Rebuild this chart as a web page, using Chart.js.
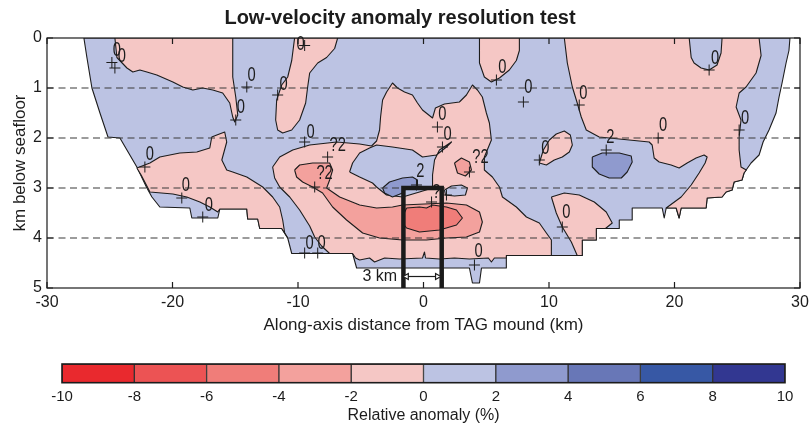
<!DOCTYPE html>
<html><head><meta charset="utf-8">
<script src="https://cdn.jsdelivr.net/npm/chart.js@4/dist/chart.umd.min.js"></script>
<style>
html,body{margin:0;padding:0;background:#fff;}
#wrap{position:relative;width:812px;height:425px;}
#c1{position:absolute;left:0;top:0;}
#c2{position:absolute;left:0;top:345px;}
</style></head><body>
<div id="wrap"><canvas id="c1" width="812" height="345"></canvas><canvas id="c2" width="812" height="80"></canvas></div>
<script>
// ================= DATA =================
const xTicks = [-30,-20,-10,0,10,20,30];
const depthTicks = [0,1,2,3,4,5];
const gridDepths = [1,2,3,4];
const bandEdges = [-10,-8,-6,-4,-2,0,2,4,6,8,10];

// Contour regions: [along-axis km, depth km]
const domainOutline = [[-27.06,0],[-26.82,0.39],[-26.42,1.0],[-25.78,1.5],[-25.14,1.98],[-24.19,2.0],[-22.84,2.58],[-22.04,3.0],[-21.64,3.18],[-21.01,3.38],[-18.62,3.4],[-18.46,3.6],[-16.39,3.6],[-16.23,3.42],[-14.08,3.42],[-14.01,3.62],[-13.21,3.62],[-13.05,3.81],[-11.3,3.81],[-10.82,4.0],[-10.5,4.31],[-5.65,4.31],[-5.33,4.6],[3.66,4.6],[3.9,4.9],[4.46,4.9],[4.62,4.6],[6.6,4.6],[6.6,4.35],[12.65,4.35],[12.65,4.04],[13.77,4.04],[13.77,3.81],[15.6,3.81],[15.6,3.64],[16.63,3.64],[16.63,3.4],[19.02,3.4],[19.18,3.6],[19.34,3.4],[20.13,3.4],[20.37,3.6],[20.53,3.4],[22.52,3.4],[22.6,3.2],[23.79,3.18],[24.11,3.08],[24.59,3.04],[24.75,2.88],[25.38,2.84],[25.54,2.7],[26.1,2.5],[26.74,2.34],[27.06,2.08],[27.53,1.84],[28.09,1.5],[28.33,1.18],[28.57,0.9],[28.89,0.5],[29.12,0.25],[29.2,0]];
const lowTopLeft = [[-24.59,0],[-24.43,0.39],[-23.63,0.6],[-23.16,0.68],[-22.6,0.64],[-22.04,0.68],[-21.25,0.74],[-19.97,0.88],[-19.18,0.98],[-18.38,1.04],[-17.59,1.0],[-16.79,1.04],[-16.0,1.1],[-15.44,1.3],[-15.2,1.58],[-15.04,1.68],[-14.8,1.54],[-14.96,1.18],[-15.2,0.78],[-15.2,0]];
const lowTongue = [[-10.27,0],[-10.5,0.45],[-10.82,0.78],[-11.3,0.94],[-11.7,1.24],[-11.78,1.64],[-11.62,1.84],[-11.22,1.9],[-10.5,1.84],[-9.87,1.64],[-9.39,1.3],[-9.23,0.98],[-9.07,0.7],[-8.43,0.5],[-7.72,0.39],[-7.08,0.21],[-6.84,0]];
const lowTopMid = [[4.46,0],[4.46,0.5],[4.85,0.78],[5.41,0.88],[6.05,0.8],[6.84,0.64],[7.4,0.45],[7.64,0.25],[7.64,0]];
const lowRight = [[11.22,0],[11.46,0.5],[11.86,0.98],[12.25,1.3],[12.57,1.58],[12.97,1.84],[14.0,1.98],[14.8,2.0],[17.98,2.08],[18.22,2.14],[18.38,2.4],[18.78,2.48],[19.73,2.54],[20.37,2.6],[21.01,2.5],[21.72,2.4],[22.36,2.34],[22.6,2.38],[22.44,2.5],[21.96,2.7],[21.33,2.94],[20.53,3.18],[19.34,3.4],[20.13,3.4],[20.37,3.6],[20.53,3.4],[22.52,3.4],[22.6,3.2],[23.79,3.18],[24.11,3.08],[24.59,3.04],[24.75,2.88],[25.38,2.84],[25.54,2.7],[25.72,2.64],[25.3,2.58],[25.15,2.24],[25.15,1.98],[25.3,1.64],[24.91,1.38],[25.15,1.1],[25.7,0.98],[26.5,0.7],[26.9,0.35],[26.74,0]];
const highTopRight = [[21.17,0],[21.33,0.39],[21.56,0.5],[22.12,0.6],[22.76,0.64],[23.39,0.54],[23.71,0.3],[23.79,0]];
const lowLowerLeft = [[-22.84,2.6],[-21.8,2.5],[-21.01,2.38],[-19.42,2.3],[-18.06,2.28],[-17.03,2.2],[-16.87,1.98],[-16.47,1.94],[-15.84,1.88],[-15.68,2.08],[-16.07,2.44],[-15.68,2.64],[-15.2,2.68],[-14.08,2.78],[-12.81,2.98],[-12.02,3.18],[-11.46,3.38],[-11.22,3.64],[-11.06,3.9],[-10.82,4.0],[-11.3,3.81],[-13.05,3.81],[-13.21,3.62],[-14.01,3.62],[-14.08,3.42],[-16.23,3.42],[-16.39,3.48],[-17.03,3.38],[-17.82,3.28],[-18.86,3.18],[-19.97,3.12],[-21.8,3.08],[-22.0,2.98],[-22.5,2.74]];
const lowCentre = [[-12.02,2.58],[-11.46,2.38],[-10.42,2.24],[-9.07,2.14],[-6.92,2.08],[-5.09,2.12],[-4.14,2.16],[-3.74,2.06],[-3.5,1.84],[-3.42,1.58],[-3.26,1.24],[-2.94,1.08],[-2.47,0.9],[-2.07,1.0],[-1.51,1.08],[-0.88,1.14],[-0.48,1.3],[-0.08,1.44],[0.72,1.6],[0.95,1.4],[1.67,1.32],[2.86,1.28],[3.42,1.14],[3.9,0.94],[4.3,1.04],[4.69,1.18],[5.01,1.5],[5.25,1.7],[5.41,2.04],[4.85,2.38],[4.85,2.64],[5.49,2.78],[6.05,2.98],[6.29,3.18],[7.4,3.38],[8.2,3.58],[9.23,3.7],[9.79,3.9],[10.19,4.04],[10.19,4.35],[6.6,4.35],[6.6,4.4],[5.65,4.4],[5.41,4.48],[5.17,4.4],[3.66,4.42],[2.47,4.4],[1.27,4.42],[0.16,4.4],[0.08,4.28],[-0.08,4.4],[-1.91,4.42],[-3.1,4.4],[-3.9,4.48],[-4.3,4.4],[-5.09,4.44],[-5.41,4.4],[-5.65,4.31],[-7.48,4.31],[-8.12,4.16],[-8.67,3.98],[-9.07,3.76],[-9.87,3.44],[-10.66,3.18],[-11.46,2.98],[-11.86,2.8]];
const highPocket = [[-5.89,2.68],[-5.65,2.5],[-5.09,2.3],[-4.3,2.2],[-3.74,2.14],[-2.47,2.18],[-0.88,2.24],[-0.08,2.38],[1.03,2.34],[1.83,2.18],[2.23,2.08],[1.27,2.24],[0.88,2.44],[0.72,2.74],[0.72,3.0],[-0.32,3.08],[-1.67,3.18],[-2.94,3.14],[-3.74,2.98],[-4.06,2.9],[-5.09,2.78]];
const highBump = [[1.67,3.04],[2.23,2.96],[3.02,2.94],[3.5,3.0],[3.34,3.14],[2.47,3.16],[1.75,3.14]];
const lowBlobNE = [[9.23,2.5],[9.55,2.24],[10.03,2.04],[10.58,1.92],[11.22,1.86],[11.7,1.94],[11.86,2.14],[11.62,2.28],[11.06,2.38],[10.42,2.44],[9.79,2.54]];
const lowLobeSE = [[10.19,3.18],[11.22,3.1],[12.41,3.14],[13.61,3.28],[14.56,3.48],[15.04,3.7],[14.5,3.81],[13.77,3.81],[13.77,4.04],[12.65,4.04],[12.65,4.35],[12.25,4.35],[11.78,4.08],[11.06,3.78],[10.58,3.5]];
const midLowBand = [[-10.27,2.64],[-9.87,2.54],[-8.83,2.5],[-7.48,2.5],[-7.24,2.64],[-7.48,2.84],[-7.72,3.0],[-6.68,3.18],[-5.09,3.34],[-3.74,3.4],[-2.47,3.38],[-1.67,3.34],[1.83,3.3],[3.42,3.34],[4.46,3.48],[4.69,3.68],[4.46,3.88],[3.42,3.98],[1.83,4.0],[0.24,4.04],[-1.67,4.04],[-3.5,4.0],[-4.85,3.9],[-6.13,3.64],[-7.24,3.38],[-8.04,3.1],[-8.83,2.98],[-9.63,2.88],[-10.11,2.78]];
const midLowBlob = [[2.47,2.5],[3.02,2.4],[3.66,2.48],[3.82,2.64],[3.34,2.76],[2.71,2.7]];
const deepLowCore = [[-1.35,3.4],[-0.32,3.38],[0.24,3.4],[0.72,3.34],[1.83,3.38],[2.63,3.44],[3.1,3.6],[2.63,3.74],[1.27,3.84],[-0.32,3.88],[-1.35,3.8],[-1.67,3.7],[-1.67,3.58]];
const midHighCentre = [[-3.26,3.0],[-2.71,2.88],[-1.67,2.8],[-0.88,2.78],[-0.48,2.84],[-0.48,2.98],[-1.35,3.0],[-1.67,3.1],[-2.47,3.18],[-3.1,3.1]];
const midHighRight = [[13.45,2.38],[14.24,2.3],[15.6,2.3],[16.55,2.36],[16.63,2.48],[16.23,2.68],[15.76,2.8],[14.8,2.8],[14.0,2.72],[13.45,2.58]];

// region list: [outline, anomaly value (%) inside]
const regions = [
  [domainOutline, 1], [lowTopLeft, -1], [lowTongue, -1], [lowTopMid, -1], [lowRight, -1],
  [highTopRight, 1], [lowLowerLeft, -1], [lowCentre, -1], [highPocket, 1], [highBump, 1],
  [lowBlobNE, -1], [lowLobeSE, -1], [midLowBand, -3], [midLowBlob, -3], [deepLowCore, -5],
  [midHighCentre, 3], [midHighRight, 3]
];

// contour labels
const labelX = [-24.43,-24.03,-13.69,-14.56,-11.14,-9.79,-8.99,-6.84,-7.88,-21.8,-18.94,-17.11,-9.07,-8.12,-0.26,1.03,4.54,9.71,11.38,4.38,14.88,19.1,12.73,23.24,25.62,6.29,8.36,1.51,1.91];
const labelY = [0.25,0.37,0.74,1.38,0.92,0.13,1.88,2.14,2.7,2.32,2.94,3.34,4.1,4.1,2.67,3.08,2.38,2.2,3.48,4.26,1.98,1.74,1.1,0.41,1.6,0.58,0.98,1.52,1.92];
const labelText = ['0','0','0','0','0','0','0','?2','?2','0','0','0','0','0','2','?','?2','0','0','0','2','0','0','0','0','0','0','0','0'];
const plusX = [-24.83,-24.59,-14.08,-14.96,-11.62,-9.47,-9.47,-7.64,-8.67,-22.2,-19.26,-17.59,-9.47,-8.43,-0.56,0.64,1.83,3.66,9.23,11.06,4.06,14.56,18.7,12.41,22.76,25.15,5.81,7.96,1.11,1.51];
const plusY = [0.49,0.6,0.98,1.64,1.14,0.15,2.08,2.38,2.98,2.58,3.2,3.58,4.3,4.3,2.94,3.28,3.14,2.68,2.44,3.78,4.54,2.24,2.0,1.34,0.64,1.84,0.84,1.28,1.78,2.18];

// TAG box and 3 km scale arrow
const tagBoxX = [-1.6, 1.45];
const tagBoxTop = 3;
const arrowX = [-1.35, 1.1];
const arrowDepth = 4.77;
const scaleBarText = '3 km';
const scaleBarTextX = -2.1;

// ================= STYLE =================
const FONT = '"Liberation Sans", Arial, Helvetica, sans-serif';
const INK = '#1c1c1c';
const bandColors = ['#e9292e','#ec5354','#f07d79','#f3a19d','#f5c7c5','#bcc3e3','#8f9ace','#6877b7','#3758a5','#323791'];
function colorFor(v){ for(let i=0;i<bandColors.length;i++){ if(v>=bandEdges[i] && v<bandEdges[i+1]) return bandColors[i]; } return bandColors[bandColors.length-1]; }
const pts = a => a.map(p => ({x:p[0], y:p[1]}));

Chart.defaults.font.family = FONT;
Chart.defaults.color = INK;

const datasets = [];
let ord = 1000;
regions.forEach(([outline, val]) => {
  const d = pts(outline); d.push({x:outline[0][0], y:outline[0][1]});
  datasets.push({data:d, fill:'shape', backgroundColor:colorFor(val), borderColor:INK, borderWidth:1.1,
    pointRadius:0, tension:0, borderJoinStyle:'round', order:ord--});
});
gridDepths.forEach(dp => {
  datasets.push({data:[{x:-30,y:dp},{x:30,y:dp}], fill:false, borderColor:'#3a3a3a', borderWidth:1.1,
    borderDash:[7,4.5], pointRadius:0, order:ord--});
});
datasets.push({data:[{x:tagBoxX[0],y:5},{x:tagBoxX[0],y:tagBoxTop},{x:tagBoxX[1],y:tagBoxTop},{x:tagBoxX[1],y:5}],
  fill:false, borderColor:'#1a1a1a', borderWidth:4.5, borderJoinStyle:'miter', pointRadius:0, order:ord--});
datasets.push({data:[{x:arrowX[0],y:arrowDepth},{x:arrowX[1],y:arrowDepth}], fill:false, borderColor:INK, borderWidth:1.2,
  pointStyle:'triangle', pointRadius:3.5, pointRotation:[-90,90], pointBackgroundColor:'#fff', pointBorderColor:INK, pointBorderWidth:1.2, order:ord--});
datasets.push({data:plusX.map((x,i)=>({x, y:plusY[i]})), showLine:false, pointStyle:'cross', pointRadius:5.5,
  pointBorderColor:INK, pointBorderWidth:1, order:ord--});

const overlay = {
  id:'overlay',
  afterDatasetsDraw(chart){
    const {ctx, scales:{x, y}} = chart;
    ctx.save();
    ctx.fillStyle = INK; ctx.textAlign='center'; ctx.textBaseline='middle';
    ctx.font = '21px ' + FONT;
    labelText.forEach((t,i) => {
      ctx.save();
      ctx.translate(x.getPixelForValue(labelX[i]), y.getPixelForValue(labelY[i]));
      ctx.scale(0.7, 1);
      ctx.fillText(t, 0, 0);
      ctx.restore();
    });
    ctx.font = '16px ' + FONT; ctx.textAlign = 'right';
    ctx.fillText(scaleBarText, x.getPixelForValue(scaleBarTextX), y.getPixelForValue(arrowDepth));
    ctx.restore();
  },
  afterDraw(chart){
    const {ctx, chartArea:a, scales:{x, y}} = chart;
    ctx.save();
    ctx.strokeStyle = INK; ctx.lineWidth = 1.2;
    ctx.strokeRect(a.left, a.top, a.right-a.left, a.bottom-a.top);
    ctx.beginPath();
    xTicks.forEach(v => { const p = x.getPixelForValue(v);
      ctx.moveTo(p, a.bottom); ctx.lineTo(p, a.bottom-6); ctx.moveTo(p, a.top); ctx.lineTo(p, a.top+6); });
    depthTicks.forEach(v => { const p = y.getPixelForValue(v);
      ctx.moveTo(a.left, p); ctx.lineTo(a.left+6, p); ctx.moveTo(a.right, p); ctx.lineTo(a.right-6, p); });
    ctx.stroke();
    ctx.restore();
  }
};

new Chart(document.getElementById('c1'), {
  type:'line',
  data:{datasets},
  options:{
    responsive:false, animation:false, events:[],
    layout:{padding:{left:0,right:12,top:0,bottom:0}},
    plugins:{legend:{display:false}, tooltip:{enabled:false},
      title:{display:true, text:'Low-velocity anomaly resolution test', color:INK,
        font:{size:20, weight:'bold'}, padding:{top:6, bottom:8}}},
    scales:{
      x:{type:'linear', min:-30, max:30,
        afterFit(s){ s.height = 57; s.paddingLeft = 0; s.paddingRight = 0; },
        grid:{display:false, drawTicks:false}, border:{display:false},
        ticks:{stepSize:10, padding:4.5, maxRotation:0, font:{size:16}, color:INK},
        title:{display:true, text:'Along-axis distance from TAG mound (km)', color:INK, font:{size:17}, padding:{top:0,bottom:9.8}}},
      y:{type:'linear', min:0, max:5, reverse:true,
        afterFit(s){ s.width = 47; s.paddingTop = 0; s.paddingBottom = 0; },
        grid:{display:false, drawTicks:false}, border:{display:false},
        ticks:{stepSize:1, padding:5, font:{size:16}, color:INK},
        title:{display:true, text:'km below seafloor', color:INK, font:{size:17}, padding:{top:9.8,bottom:0}}}
    }
  },
  plugins:[overlay]
});

// ================= COLOUR BAR =================
const barFrame = {
  id:'barFrame',
  afterDraw(chart){ const {ctx, chartArea:a} = chart; ctx.save(); ctx.strokeStyle = INK; ctx.lineWidth = 1.6;
    ctx.strokeRect(a.left, a.top, a.right-a.left, a.bottom-a.top); ctx.restore(); }
};
new Chart(document.getElementById('c2'), {
  type:'bar',
  data:{labels:[''], datasets: bandColors.map((c,i) => ({
    data:[[bandEdges[i], bandEdges[i+1]]], backgroundColor:c, borderColor:'#333', borderWidth:1,
    borderSkipped:false, grouped:false, barPercentage:1, categoryPercentage:1 }))},
  options:{
    indexAxis:'y', responsive:false, animation:false, events:[],
    layout:{padding:{left:62, right:27, top:19, bottom:0}},
    plugins:{legend:{display:false}, tooltip:{enabled:false}},
    scales:{
      x:{type:'linear', min:-10, max:10,
        afterFit(s){ s.height = 42.3; s.paddingLeft = 0; s.paddingRight = 0; },
        grid:{display:false, drawTicks:false}, border:{display:false},
        ticks:{stepSize:2, padding:5, maxRotation:0, font:{size:15}, color:INK},
        title:{display:true, text:'Relative anomaly (%)', color:INK, font:{size:16}, padding:{top:0,bottom:0}}},
      y:{display:false}
    }
  },
  plugins:[barFrame]
});
</script></body></html>
